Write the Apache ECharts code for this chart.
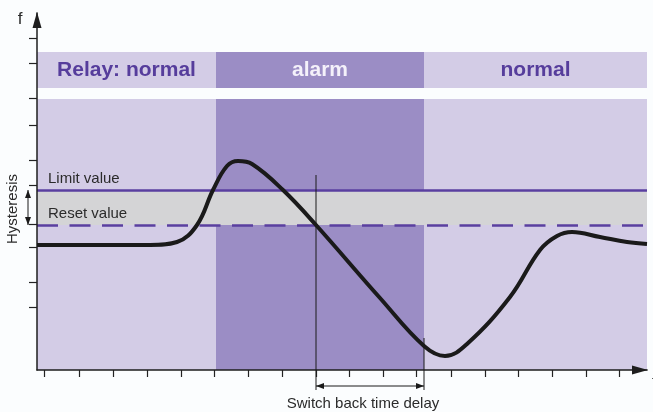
<!DOCTYPE html>
<html>
<head>
<meta charset="utf-8">
<script src="https://cdn.jsdelivr.net/npm/echarts@6/dist/echarts.min.js"></script>
<style>
  html, body { margin: 0; padding: 0; background: #fbfdfe; }
  #relay_chart { width: 653px; height: 412px; }
</style>
</head>
<body>
<div id="relay_chart"></div>
<script>
/*************************************
 *
 * data (x: time units, y: frequency units)
 *
 ************************************/
var curveX = [0, 113, 140, 160, 176, 190, 201, 215, 246, 279, 343, 387, 408, 430, 473, 503, 520, 535, 563, 590, 610];
var curveY = [125, 125, 128, 145, 180, 204, 209, 206, 180, 145, 72, 24, 14, 26, 73, 120, 134, 138, 133, 128, 126];
var zoneEdges = [0, 179, 387, 610];
var zoneNames = ['Relay: normal', 'alarm', 'normal'];
var zoneAlarm = [false, true, false];
var limitValue = 180;
var resetValue = 145;
var delayFrom = 279;
var delayTo = 387;
var xTicks = [7, 42, 76, 110, 144, 177, 211, 245, 279, 312, 346, 379, 414, 448, 481, 515, 549, 582];
var yTicks = [332, 307, 272, 245, 210, 185, 146, 123, 88, 63];

var plotTop = 271, bandLow = 282, bandHigh = 318;
var lightFill = '#d3cce6', darkFill = '#9b8dc5', purple = '#5a3fa0', ink = '#2b2b2b';

var chart = echarts.init(document.getElementById('relay_chart'));

var curveData = curveX.map(function (x, i) { return [x, curveY[i]]; });

var zoneAreas = [];
zoneNames.forEach(function (name, i) {
    var fill = zoneAlarm[i] ? darkFill : lightFill;
    zoneAreas.push([
        { xAxis: zoneEdges[i], yAxis: 0, itemStyle: { color: fill }, label: { show: false } },
        { xAxis: zoneEdges[i + 1], yAxis: plotTop }
    ]);
    zoneAreas.push([
        {
            xAxis: zoneEdges[i], yAxis: bandLow, itemStyle: { color: fill },
            label: {
                show: true, position: 'inside', formatter: name,
                color: zoneAlarm[i] ? '#f4f1fa' : '#563d9c',
                fontSize: 21, fontWeight: 'bold', fontFamily: 'Liberation Sans'
            }
        },
        { xAxis: zoneEdges[i + 1], yAxis: bandHigh }
    ]);
});
// hysteresis band
zoneAreas.push([
    { xAxis: zoneEdges[0], yAxis: resetValue, itemStyle: { color: '#d4d4d6' }, label: { show: false } },
    { xAxis: zoneEdges[3], yAxis: limitValue }
]);

// annotation lines: [x1, y1, x2, y2, arrows]
var noteLines = [
    [delayFrom, 195, delayFrom, -20, 0],
    [delayTo, 32, delayTo, -20, 0],
    [delayFrom, -16, delayTo, -16, 1],
    [-9, limitValue, -9, resetValue, 1]
];

function arrowHead(tip, from, len, half) {
    var dx = from[0] - tip[0], dy = from[1] - tip[1];
    var d = Math.sqrt(dx * dx + dy * dy) || 1;
    dx /= d; dy /= d;
    var bx = tip[0] + dx * len, by = tip[1] + dy * len;
    return {
        type: 'polygon',
        shape: { points: [tip, [bx - dy * half, by + dx * half], [bx + dy * half, by - dx * half]] },
        style: { fill: '#1a1a1a' }
    };
}

function renderNote(params, api) {
    var p1 = api.coord([api.value(0), api.value(1)]);
    var p2 = api.coord([api.value(2), api.value(3)]);
    var kids = [{
        type: 'line',
        shape: { x1: p1[0], y1: p1[1], x2: p2[0], y2: p2[1] },
        style: { stroke: '#1a1a1a', lineWidth: 1 }
    }];
    if (api.value(4)) {
        kids.push(arrowHead(p1, p2, 8, 3));
        kids.push(arrowHead(p2, p1, 8, 3));
    }
    return { type: 'group', children: kids };
}

var axisLineStyle = {
    onZero: false,
    lineStyle: { color: '#1e1e1e', width: 1.5 },
    symbol: ['none', 'triangle'], symbolSize: [9, 16], symbolOffset: [0, -7]
};

var option = {
    animation: false,
    backgroundColor: '#fbfdfe',
    grid: { left: 37, right: 6, top: 13, bottom: 42 },
    xAxis: {
        type: 'value', min: 0, max: 610, z: 8,
        splitLine: { show: false },
        axisLabel: { show: false },
        axisLine: axisLineStyle,
        axisTick: { show: true, length: 7, customValues: xTicks, lineStyle: { color: '#222', width: 1.2 } }
    },
    yAxis: {
        type: 'value', min: 0, max: 357, z: 8,
        splitLine: { show: false },
        axisLabel: { show: false },
        axisLine: axisLineStyle,
        axisTick: { show: true, length: 8, customValues: yTicks, lineStyle: { color: '#222', width: 1.2 } }
    },
    graphic: [
        { type: 'text', x: 20, y: 19, style: { text: 'f', font: '17px "Liberation Sans"', fill: ink, align: 'center', verticalAlign: 'middle' } },
        { type: 'text', x: 13, y: 209, rotation: Math.PI / 2, style: { text: 'Hysteresis', font: '15px "Liberation Sans"', fill: ink, align: 'center', verticalAlign: 'middle' } },
        { type: 'text', x: 363, y: 404, style: { text: 'Switch back time delay', font: '15px "Liberation Sans"', fill: ink, align: 'center', verticalAlign: 'middle' } },
        { type: 'text', x: 652, y: 383, style: { text: 't', font: '16px "Liberation Sans"', fill: ink, align: 'left', verticalAlign: 'middle' } }
    ],
    series: [
        {
            name: 'f',
            type: 'line',
            z: 10,
            data: curveData,
            smooth: 0.4,
            showSymbol: false,
            lineStyle: { color: '#1a1a1a', width: 4 },
            markArea: { silent: true, data: zoneAreas },
            markLine: {
                silent: true,
                symbol: 'none',
                label: {
                    position: 'insideStartTop', distance: [11, 4],
                    color: ink, fontSize: 15, fontFamily: 'Liberation Sans'
                },
                data: [
                    { yAxis: limitValue, lineStyle: { color: purple, width: 2.5, type: 'solid' }, label: { formatter: 'Limit value' } },
                    { yAxis: resetValue, lineStyle: { color: purple, width: 2.5, type: [21, 11.5] }, label: { formatter: 'Reset value' } }
                ]
            }
        },
        {
            name: 'notes',
            type: 'custom',
            z: 12,
            clip: false,
            silent: true,
            renderItem: renderNote,
            data: noteLines
        }
    ]
};

chart.setOption(option);
</script>
</body>
</html>
